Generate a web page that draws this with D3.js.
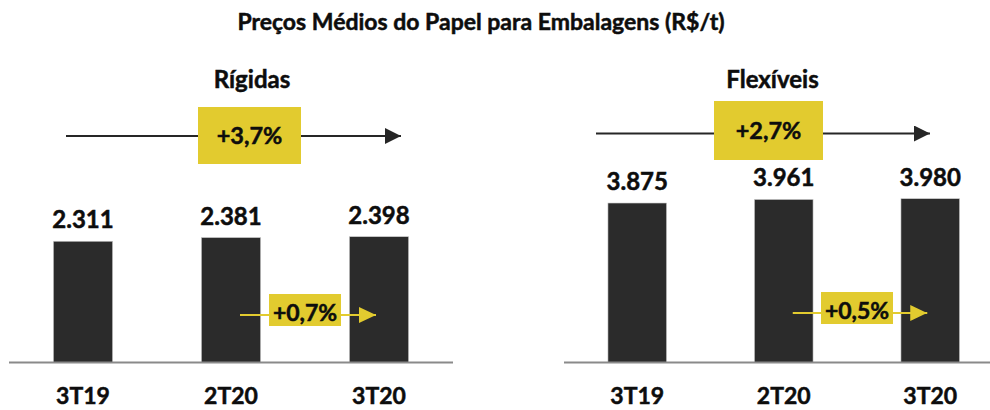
<!DOCTYPE html>
<html>
<head>
<meta charset="utf-8">
<script src="https://cdn.jsdelivr.net/npm/d3@7"></script>
<style>
  body { margin: 0; background: #fff; }
  svg text { font-family: Lato, "Noto Sans", sans-serif; font-weight: bold; fill: #0d0d0d; stroke: #0d0d0d; stroke-width: 0.5px; }
</style>
</head>
<body>
<svg id="chart" width="990" height="410"></svg>
<script>
// data
const chartTitle   = "Preços Médios do Papel para Embalagens (R$/t)";
const categories   = ["3T19", "2T20", "3T20"];
const panelTitles  = ["Rígidas", "Flexíveis"];
const rigidas      = [2311, 2381, 2398];
const flexiveis    = [3875, 3961, 3980];
const yearChange   = ["+3,7%", "+2,7%"];
const quarterChange = ["+0,7%", "+0,5%"];

const fmt = d3.formatLocale({ decimal: ",", thousands: ".", grouping: [3], currency: ["R$", ""] }).format(",d");

const BAR   = "#2b2b2b";
const GOLD  = "#e2cb2f";
const BASE  = 362.5;

// layout per panel (positions only)
const panels = [
  { values: rigidas,   range: [9, 453],      topOfMax: 236.7, titleX: 252,   arrowY: 136,   arrowX: [66, 401],  box: [198, 107, 103, 57], qY: 315 },
  { values: flexiveis, range: [564, 1003.5], topOfMax: 198.7, titleX: 772.5, arrowY: 133.5, arrowX: [596, 930], box: [714, 101, 109, 59], qY: 313 }
];

const svg = d3.select("#chart");

svg.append("text")
  .attr("x", 481).attr("y", 30)
  .attr("text-anchor", "middle")
  .attr("font-size", 23)
  .text(chartTitle);

const defs = svg.append("defs");
function marker(id, color, w, h) {
  defs.append("marker")
    .attr("id", id)
    .attr("viewBox", `0 0 ${w} ${h}`)
    .attr("refX", w).attr("refY", h / 2)
    .attr("markerWidth", w).attr("markerHeight", h)
    .attr("markerUnits", "userSpaceOnUse")
    .attr("orient", "auto")
    .append("path")
      .attr("d", `M0,0L${w},${h / 2}L0,${h}Z`)
      .attr("fill", color);
}
marker("arrDark", "#262626", 16, 16);
marker("arrGold", GOLD, 17, 16);

panels.forEach((p, i) => {
  const g = svg.append("g");

  const x = d3.scaleBand()
    .domain(categories)
    .range(p.range)
    .paddingInner(0.6)
    .paddingOuter(0.3);

  const vmax = d3.max(p.values);
  const y = d3.scaleLinear()
    .domain([0, vmax])
    .range([BASE, p.topOfMax]);

  // panel title
  g.append("text")
    .attr("x", p.titleX).attr("y", 88)
    .attr("text-anchor", "middle")
    .attr("font-size", 24)
    .text(panelTitles[i]);

  // long arrow + box
  g.append("line")
    .attr("x1", p.arrowX[0]).attr("x2", p.arrowX[1])
    .attr("y1", p.arrowY).attr("y2", p.arrowY)
    .attr("stroke", "#262626").attr("stroke-width", 2)
    .attr("marker-end", "url(#arrDark)");
  g.append("rect")
    .attr("x", p.box[0]).attr("y", p.box[1])
    .attr("width", p.box[2]).attr("height", p.box[3])
    .attr("fill", GOLD);
  g.append("text")
    .attr("x", p.box[0] + p.box[2] / 2)
    .attr("y", p.box[1] + p.box[3] / 2 + 8.5)
    .attr("text-anchor", "middle")
    .attr("font-size", 23.5)
    .text(yearChange[i]);

  // bars
  g.selectAll("rect.bar")
    .data(p.values)
    .enter().append("rect")
      .attr("class", "bar")
      .attr("x", (d, j) => x(categories[j]))
      .attr("y", d => y(d))
      .attr("width", x.bandwidth())
      .attr("height", d => BASE - y(d))
      .attr("fill", BAR)
      .attr("stroke", "#c8c8c8")
      .attr("stroke-width", 0.6);

  // value labels
  g.selectAll("text.val")
    .data(p.values)
    .enter().append("text")
      .attr("class", "val")
      .attr("x", (d, j) => x(categories[j]) + x.bandwidth() / 2)
      .attr("y", d => y(d) - 13)
      .attr("text-anchor", "middle")
      .attr("font-size", 24)
      .text(d => fmt(d));

  // baseline
  g.append("line")
    .attr("x1", p.range[0]).attr("x2", Math.min(p.range[1], 990))
    .attr("y1", BASE).attr("y2", BASE)
    .attr("stroke", "#8a8a8a").attr("stroke-width", 2);

  // category labels
  g.selectAll("text.cat")
    .data(categories)
    .enter().append("text")
      .attr("class", "cat")
      .attr("x", d => x(d) + x.bandwidth() / 2)
      .attr("y", 404)
      .attr("text-anchor", "middle")
      .attr("font-size", 23)
      .text(d => d);

  // quarter-over-quarter arrow between last two bars
  const c1 = x(categories[1]) + x.bandwidth() / 2;
  const c2 = x(categories[2]) + x.bandwidth() / 2;
  const mid = (c1 + c2) / 2;
  g.append("line")
    .attr("x1", c1 + 9).attr("x2", c2 - 3)
    .attr("y1", p.qY).attr("y2", p.qY)
    .attr("stroke", GOLD).attr("stroke-width", 2)
    .attr("marker-end", "url(#arrGold)");
  g.append("rect")
    .attr("x", mid - 36).attr("y", p.qY - 21)
    .attr("width", 72).attr("height", 32)
    .attr("fill", GOLD);
  g.append("text")
    .attr("x", mid).attr("y", p.qY + 5.5)
    .attr("text-anchor", "middle")
    .attr("font-size", 23)
    .text(quarterChange[i]);
});
</script>
</body>
</html>
